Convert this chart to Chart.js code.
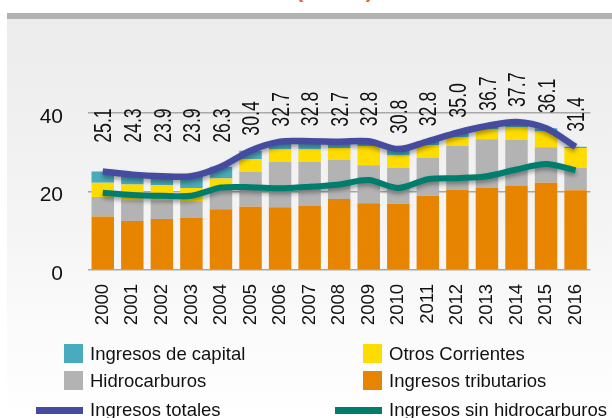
<!DOCTYPE html>
<html>
<head>
<meta charset="utf-8">
<script src="https://cdn.jsdelivr.net/npm/chart.js@4/dist/chart.umd.min.js"></script>
<style>
    html, body { margin: 0; padding: 0; background: #fff; }
    #wrap { position: relative; width: 612px; height: 418px; overflow: hidden; font-family: "Liberation Sans", Arial, sans-serif; }
    #panel { position: absolute; left: 7px; top: 13px; right: 0; bottom: 0; border-top: 6px solid #b2b2b2;
             background: linear-gradient(to bottom, #ececec 0%, #f3f3f3 45%, #fafafa 75%, #ffffff 100%); }
    #title { position: absolute; left: 296px; top: -21px; font-size: 22px; line-height: 22px; font-weight: bold; color: #e8641c; white-space: nowrap; }
    #chart { position: absolute; left: 0; top: 0; }
    .lg { position: absolute; font-size: 18.5px; line-height: 20px; color: #111; white-space: nowrap; }
    .box { position: absolute; width: 19px; height: 19px; }
    .ln { position: absolute; width: 47px; height: 7px; }
</style>
</head>
<body>
<div id="wrap">
    <div id="panel"></div>
    <div id="title">(% PIB)</div>
    <canvas id="chart" width="612" height="418"></canvas>
    <div id="legend"></div>
</div>
<script>
// Ingresos del gobierno general, % del PIB
var years = ['2000','2001','2002','2003','2004','2005','2006','2007','2008','2009','2010','2011','2012','2013','2014','2015','2016'];
var tributarios = [13.6, 12.5, 13.0, 13.4, 15.5, 16.1, 16.0, 16.3, 18.1, 17.0, 16.9, 18.9, 20.5, 20.9, 21.4, 22.2, 20.3];
var hidrocarburos = [5.0, 5.3, 4.8, 4.1, 5.3, 8.9, 11.5, 11.2, 9.9, 9.7, 9.1, 9.7, 11.1, 12.4, 11.7, 9.1, 5.7];
var otrosCorrientes = [3.6, 4.0, 3.8, 3.4, 2.5, 3.2, 3.3, 3.3, 3.1, 4.9, 3.2, 3.2, 2.3, 2.5, 3.3, 4.0, 5.1];
var capital = [2.9, 2.5, 2.3, 3.0, 3.0, 2.2, 1.9, 2.0, 1.6, 1.2, 1.6, 1.0, 1.1, 0.9, 1.3, 0.8, 0.3];
var totales = [25.1, 24.3, 23.9, 23.9, 26.3, 30.4, 32.7, 32.8, 32.7, 32.8, 30.8, 32.8, 35.0, 36.7, 37.7, 36.1, 31.4];
var sinHidro = [19.7, 19.1, 18.9, 18.9, 21.0, 21.1, 20.8, 21.2, 21.8, 22.9, 20.9, 23.1, 23.4, 23.9, 25.6, 27.0, 25.4];
var yTicks = [0, 20, 40];

var colors = {
    capital: '#4aaabe',
    otros: '#ffdc00',
    hidro: '#b3b3b3',
    trib: '#e88500',
    total: '#454ca0',
    sinHidro: '#007e6d'
};

// legend in two columns, like the original
var legendItems = [
    { text: 'Ingresos de capital', color: colors.capital, type: 'box', col: 0, row: 0 },
    { text: 'Otros Corrientes', color: colors.otros, type: 'box', col: 1, row: 0 },
    { text: 'Hidrocarburos', color: colors.hidro, type: 'box', col: 0, row: 1 },
    { text: 'Ingresos tributarios', color: colors.trib, type: 'box', col: 1, row: 1 },
    { text: 'Ingresos totales', color: colors.total, type: 'line', col: 0, row: 2 },
    { text: 'Ingresos sin hidrocarburos', color: colors.sinHidro, type: 'line', col: 1, row: 2 }
];
var legendEl = document.getElementById('legend');
legendItems.forEach(function(it) {
    var colX = it.col == 0 ? 64 : 363;
    var rowY = [354, 381, 410][it.row];
    var mark = document.createElement('div');
    if (it.type == 'box') {
        mark.className = 'box';
        mark.style.left = colX + 'px';
        mark.style.top = (rowY - 10) + 'px';
    } else {
        mark.className = 'ln';
        mark.style.left = (colX - 28) + 'px';
        mark.style.top = (rowY - 3) + 'px';
    }
    mark.style.background = it.color;
    legendEl.appendChild(mark);
    var t = document.createElement('div');
    t.className = 'lg';
    t.style.left = (colX + 26) + 'px';
    t.style.top = (rowY - 10) + 'px';
    t.textContent = it.text;
    legendEl.appendChild(t);
});

// soft shadow under the two lines
var lineShadow = {
    id: 'lineShadow',
    beforeDatasetDraw: function(chart, args) {
        if (args.meta.type != 'line') return;
        var ctx = chart.ctx;
        ctx.save();
        ctx.shadowColor = 'rgba(0,0,0,0.35)';
        ctx.shadowBlur = 4;
        ctx.shadowOffsetY = 3;
    },
    afterDatasetDraw: function(chart, args) {
        if (args.meta.type != 'line') return;
        chart.ctx.restore();
    }
};

// rotated total labels above the bars
var totalLabels = {
    id: 'totalLabels',
    afterDatasetsDraw: function(chart) {
        var ctx = chart.ctx;
        var xs = chart.scales.x, ys = chart.scales.y;
        var floor = ys.getPixelForValue(32.4);
        ctx.save();
        ctx.fillStyle = '#111';
        ctx.font = '24px "Liberation Sans", Arial, sans-serif';
        ctx.textAlign = 'left';
        ctx.textBaseline = 'middle';
        totales.forEach(function(v, i) {
            var x = xs.getPixelForValue(i) + 2;
            var y = Math.min(ys.getPixelForValue(v) - 15, floor);
            ctx.save();
            ctx.translate(x, y);
            ctx.rotate(-Math.PI / 2);
            ctx.scale(0.74, 1);
            ctx.fillText(v.toFixed(1), 0, 0);
            ctx.restore();
        });
        ctx.restore();
    }
};

var barOpts = { stack: 'bars', order: 1, barPercentage: 0.76, categoryPercentage: 1, borderWidth: 0 };

new Chart(document.getElementById('chart').getContext('2d'), {
    type: 'bar',
    data: {
        labels: years,
        datasets: [
            Object.assign({ label: 'Ingresos tributarios', data: tributarios, backgroundColor: colors.trib }, barOpts),
            Object.assign({ label: 'Hidrocarburos', data: hidrocarburos, backgroundColor: colors.hidro }, barOpts),
            Object.assign({ label: 'Otros Corrientes', data: otrosCorrientes, backgroundColor: colors.otros }, barOpts),
            Object.assign({ label: 'Ingresos de capital', data: capital, backgroundColor: colors.capital }, barOpts),
            {
                type: 'line', label: 'Ingresos totales', data: totales, stack: 'l1', order: 0,
                borderColor: colors.total, borderWidth: 6.5, pointRadius: 0, tension: 0.3, fill: false
            },
            {
                type: 'line', label: 'Ingresos sin hidrocarburos', data: sinHidro, stack: 'l2', order: 0,
                borderColor: colors.sinHidro, borderWidth: 6, pointRadius: 0, tension: 0.3, fill: false
            }
        ]
    },
    options: {
        responsive: false,
        animation: false,
        devicePixelRatio: 1,
        layout: { padding: { top: 113, right: 7, left: 0, bottom: 0 } },
        plugins: {
            legend: { display: false },
            tooltip: { enabled: false }
        },
        scales: {
            x: {
                stacked: true,
                grid: { display: false, drawTicks: false },
                border: { display: false },
                ticks: {
                    minRotation: 90, maxRotation: 90, padding: 14, color: '#111',
                    font: { family: '"Liberation Sans", Arial, sans-serif', size: 18.5 }
                },
                afterFit: function(scale) { scale.height = 148; }
            },
            y: {
                stacked: true,
                min: 0, max: 40,
                afterBuildTicks: function(scale) {
                    scale.ticks = yTicks.map(function(v) { return { value: v }; });
                },
                grid: { color: '#a8a8a8', lineWidth: 1.5, drawTicks: false },
                border: { display: false },
                ticks: {
                    padding: 25, labelOffset: 4, color: '#111',
                    font: { family: '"Liberation Sans", Arial, sans-serif', size: 21 }
                },
                afterFit: function(scale) { scale.width = 88; }
            }
        }
    },
    plugins: [lineShadow, totalLabels]
});
</script>
</body>
</html>
